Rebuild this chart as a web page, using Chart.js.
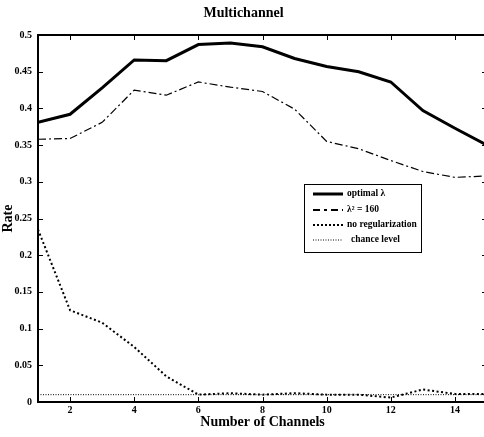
<!DOCTYPE html>
<html>
<head>
<meta charset="utf-8">
<script src="https://cdn.jsdelivr.net/npm/chart.js@4.4.1/dist/chart.umd.min.js"></script>
<style>
html,body{margin:0;padding:0;background:#fff;overflow:hidden;}
#wrap{position:absolute;left:0;top:0;width:490px;height:437px;}
</style>
</head>
<body>
<div id="wrap"><canvas id="c" width="490" height="437"></canvas></div>
<script>
const channels = [1,2,3,4,5,6,7,8,9,10,11,12,13,14,15];
const optimalLambda = [0.381,0.392,0.428,0.466,0.465,0.487,0.489,0.484,0.468,0.457,0.450,0.436,0.397,0.373,0.350];
const lambda160 = [0.358,0.359,0.381,0.425,0.418,0.436,0.429,0.423,0.399,0.355,0.345,0.329,0.314,0.306,0.308];
const noRegularization = [0.235,0.125,0.108,0.075,0.035,0.010,0.012,0.010,0.012,0.010,0.010,0.006,0.017,0.011,0.011];
const chanceLevel = [0.01,0.01,0.01,0.01,0.01,0.01,0.01,0.01,0.01,0.01,0.01,0.01,0.01,0.01,0.01];
const xTickValues = [2,4,6,8,10,12,14];
const yTickValues = [0,0.05,0.1,0.15,0.2,0.25,0.3,0.35,0.4,0.45,0.5];
const yTickLabels = ['0','0.05','0.1','0.15','0.2','0.25','0.3','0.35','0.4','0.45','0.5'];
const seriesLabels = ['optimal λ','λ² = 160','no regularization','chance level'];

const FONT = '"Liberation Serif","DejaVu Serif",serif';
const styles = [
  {w:3, dash:[]},
  {w:1.2, dash:[8,3,2,3]},
  {w:2, dash:[2,2.5]},
  {w:1, dash:[1,1.5]}
];
const legendStyles = [
  {w:3, dash:[]},
  {w:2.2, dash:[7,4,3,4]},
  {w:2, dash:[2,2]},
  {w:1, dash:[1,1.5]}
];
const seriesData = [optimalLambda, lambda160, noRegularization, chanceLevel];

const datasets = seriesData.map((arr,i)=>({
  label: seriesLabels[i],
  data: channels.map((x,j)=>({x:x,y:arr[j]})),
  borderColor:'#000',
  borderWidth: styles[i].w,
  borderDash: styles[i].dash,
  pointRadius:0,
  tension:0,
  fill:false
}));

const framePlugin = {
  id:'frame',
  afterDraw(chart){
    const ctx = chart.ctx, a = chart.chartArea;
    const xs = chart.scales.x, ys = chart.scales.y;
    ctx.save();
    ctx.strokeStyle='#000';
    ctx.setLineDash([]);
    ctx.lineWidth=1;
    xTickValues.forEach(v=>{
      const px = Math.round(xs.getPixelForValue(v))+0.5;
      ctx.beginPath();
      ctx.moveTo(px,a.bottom); ctx.lineTo(px,a.bottom-5);
      ctx.moveTo(px,a.top); ctx.lineTo(px,a.top+5);
      ctx.stroke();
    });
    yTickValues.forEach(v=>{
      const py = Math.round(ys.getPixelForValue(v))+0.5;
      ctx.beginPath();
      ctx.moveTo(a.left,py); ctx.lineTo(a.left+5,py);
      ctx.moveTo(a.right,py); ctx.lineTo(a.right-5,py);
      ctx.stroke();
    });
    ctx.lineWidth=2;
    ctx.strokeRect(a.left,a.top,a.right-a.left,a.bottom-a.top);
    const lx=304, ly=184, lw=117, lh=68;
    ctx.fillStyle='#fff';
    ctx.fillRect(lx,ly,lw,lh);
    ctx.lineWidth=1;
    ctx.strokeRect(lx+0.5,ly+0.5,lw,lh);
    const rows=[194,210,225,240];
    ctx.font='bold 9.5px '+FONT;
    ctx.textBaseline='middle';
    ctx.fillStyle='#000';
    seriesLabels.forEach((lab,i)=>{
      ctx.beginPath();
      ctx.lineWidth=legendStyles[i].w;
      ctx.setLineDash(legendStyles[i].dash);
      ctx.moveTo(313,rows[i]); ctx.lineTo(343,rows[i]);
      ctx.stroke();
      ctx.setLineDash([]);
      ctx.fillText(lab, i===3?351:347, rows[i]);
    });
    ctx.restore();
  }
};

new Chart(document.getElementById('c'),{
  type:'line',
  data:{datasets},
  options:{
    responsive:false,
    animation:false,
    layout:{padding:{left:0,right:3,top:0,bottom:0}},
    plugins:{
      legend:{display:false},
      tooltip:{enabled:false},
      title:{display:true,text:'Multichannel',color:'#000',
        font:{family:FONT,size:14,weight:'bold'},
        padding:{top:5,bottom:13.2}}
    },
    scales:{
      x:{type:'linear',min:1,max:15,
        afterBuildTicks(s){s.ticks=xTickValues.map(v=>({value:v}));},
        afterFit(s){s.height=35;},
        grid:{display:false,drawTicks:false},
        border:{display:false},
        ticks:{color:'#000',font:{family:FONT,size:10,weight:'bold'},padding:2,maxRotation:0,autoSkip:false},
        title:{display:true,text:'Number of Channels',color:'#000',font:{family:FONT,size:14,weight:'bold'},padding:{top:0,bottom:6}}
      },
      y:{type:'linear',min:0,max:0.5,
        afterBuildTicks(s){s.ticks=yTickValues.map(v=>({value:v}));},
        afterFit(s){s.width=38;},
        grid:{display:false,drawTicks:false},
        border:{display:false},
        ticks:{color:'#000',font:{family:FONT,size:10,weight:'bold'},padding:6,
          callback:(v,i)=>yTickLabels[i]},
        title:{display:true,text:'Rate',color:'#000',font:{family:FONT,size:14,weight:'bold'},padding:{top:0,bottom:0}}
      }
    }
  },
  plugins:[framePlugin]
});
</script>
</body>
</html>
